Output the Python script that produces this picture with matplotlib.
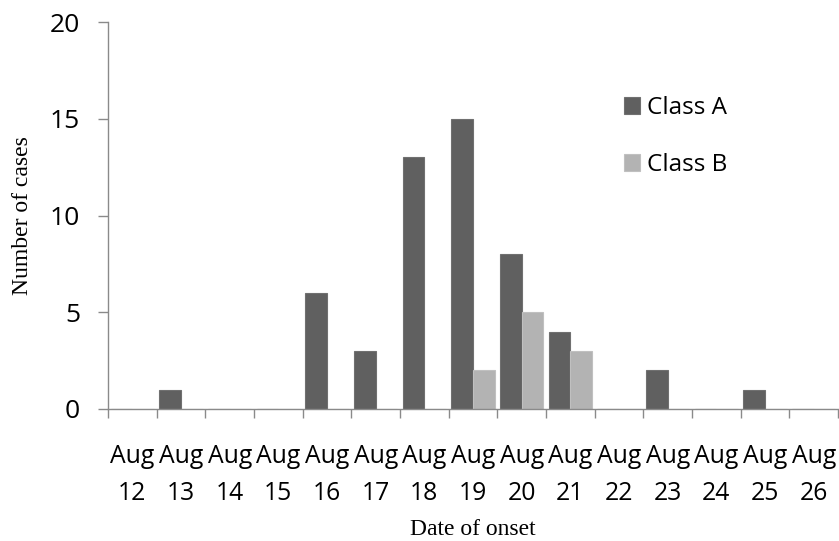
import matplotlib
matplotlib.use("Agg")
import matplotlib.pyplot as plt
import numpy as np

days = list(range(12, 27))
tick_labels = [f"Aug\n{d}" for d in days]
class_a = [0, 1, 0, 0, 6, 3, 13, 15, 8, 4, 0, 2, 0, 1, 0]
class_b = [0, 0, 0, 0, 0, 0, 0, 2, 5, 3, 0, 0, 0, 0, 0]

color_a = "#606060"
color_b = "#b3b3b3"
axis_gray = "#8a8a8a"
sans = "Open Sans"
serif = "Liberation Serif"

fig = plt.figure(figsize=(8.39, 5.41), dpi=100)
ax = fig.add_axes([108 / 839, 1 - 409 / 541, 730 / 839, 387 / 541])

x = np.arange(len(days))
w = 0.445
ax.bar(x - w / 2, class_a, width=w, color=color_a, edgecolor="#707070",
       linewidth=0.8, label="Class A", zorder=2)
ax.bar(x + w / 2, class_b, width=w, color=color_b, edgecolor="#c0c0c0",
       linewidth=0.8, label="Class B", zorder=2)

ax.set_xlim(-0.5, len(days) - 0.5)
ax.set_ylim(0, 20)
ax.set_yticks([0, 5, 10, 15, 20])

# category labels at the centres, boundary tick marks between categories
ax.set_xticks(x)
ax.set_xticklabels(tick_labels, fontfamily=sans, fontsize=17.8, linespacing=1.62)
ax.tick_params(axis="x", which="major", length=0, pad=25)
ax.set_xticks(np.arange(-0.5, len(days) + 0.5, 1), minor=True)
ax.tick_params(axis="x", which="minor", length=6.5, width=1, color=axis_gray,
               direction="out")
ax.tick_params(axis="y", length=7.2, width=1, color=axis_gray, pad=13,
               labelsize=19)
for lbl in ax.get_yticklabels():
    lbl.set_fontfamily(sans)

for side in ("top", "right"):
    ax.spines[side].set_visible(False)
for side in ("left", "bottom"):
    ax.spines[side].set_color(axis_gray)
    ax.spines[side].set_linewidth(1)

ax.set_ylabel("Number of cases", fontfamily=serif, fontsize=17, labelpad=12)
ax.set_xlabel("Date of onset", fontfamily=serif, fontsize=17, labelpad=10)

leg = ax.legend(loc="upper left", bbox_to_anchor=(0.677, 0.865), frameon=False,
                prop={"family": sans, "size": 17.5}, handlelength=0.65,
                handleheight=0.65, handletextpad=0.3, labelspacing=1.35)

fig.savefig("out.png", dpi=100, facecolor="white")
